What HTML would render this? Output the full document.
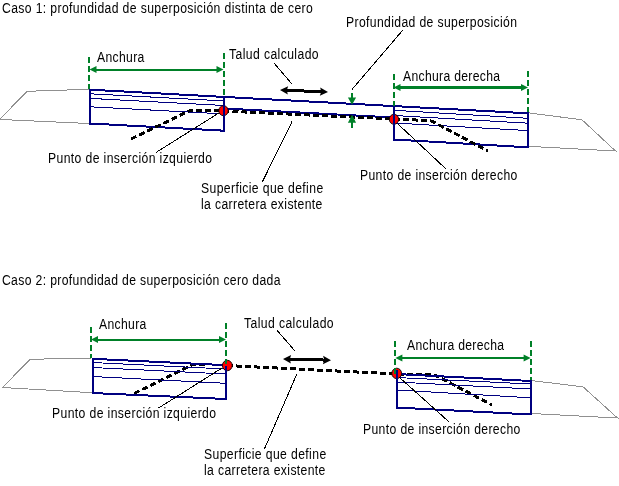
<!DOCTYPE html>
<html><head><meta charset="utf-8">
<style>
html,body{margin:0;padding:0;background:#fff;width:619px;height:486px;overflow:hidden}
svg{display:block;will-change:transform}
text{font-family:"Liberation Sans",sans-serif;font-size:14px;fill:#000}
</style></head><body>
<svg width="619" height="486" viewBox="0 0 619 486" shape-rendering="crispEdges">
<text transform="translate(2,13) scale(0.87,1)" x="0" y="0" textLength="357.21" lengthAdjust="spacing" >Caso 1: profundidad de superposición distinta de cero</text>
<polyline points="89,89.3 27,91.3 0.5,118.5 0.5,119.5 89,123.5" fill="none" stroke="#909090" stroke-width="1" />
<polyline points="528,112.8 582,119.8 615.5,151 528,146.3" fill="none" stroke="#909090" stroke-width="1" />
<line x1="90" y1="89.7" x2="528" y2="113.3" stroke="#000080" stroke-width="2" />
<line x1="90" y1="123.5" x2="224" y2="130.7" stroke="#000080" stroke-width="2" />
<line x1="394" y1="139.5" x2="528" y2="147.3" stroke="#000080" stroke-width="2" />
<line x1="90" y1="89" x2="90" y2="124.5" stroke="#000080" stroke-width="2" />
<line x1="224" y1="96" x2="224" y2="131.5" stroke="#000080" stroke-width="2" />
<line x1="394" y1="105" x2="394" y2="140.5" stroke="#000080" stroke-width="2" />
<line x1="528" y1="112" x2="528" y2="147.5" stroke="#000080" stroke-width="2" />
<line x1="90" y1="93.8" x2="224" y2="100.9" stroke="#000080" stroke-width="1" />
<line x1="90" y1="98.4" x2="224" y2="105.5" stroke="#000080" stroke-width="1" />
<line x1="90" y1="106.8" x2="224" y2="113.9" stroke="#000080" stroke-width="1" />
<line x1="394" y1="110.3" x2="528" y2="118.3" stroke="#000080" stroke-width="1" />
<line x1="394" y1="115.5" x2="528" y2="123.2" stroke="#000080" stroke-width="1" />
<line x1="394" y1="123" x2="528" y2="130.6" stroke="#000080" stroke-width="1" />
<line x1="224" y1="108.5" x2="394" y2="117.5" stroke="#000080" stroke-width="2" />
<line x1="131" y1="139" x2="190" y2="110.5" stroke="#000" stroke-width="3" stroke-dasharray="6.000,3.000" stroke-dashoffset="0.000"/>
<line x1="190" y1="110.5" x2="224" y2="111" stroke="#000" stroke-width="3" stroke-dasharray="6.000,3.000" stroke-dashoffset="2.523"/>
<line x1="224" y1="111" x2="394" y2="119" stroke="#000" stroke-width="3" stroke-dasharray="6.000,3.000" stroke-dashoffset="0.527"/>
<line x1="394" y1="119" x2="431" y2="120.7" stroke="#000" stroke-width="3" stroke-dasharray="6.000,3.000" stroke-dashoffset="8.715"/>
<line x1="431" y1="120.7" x2="488" y2="151" stroke="#000" stroke-width="3" stroke-dasharray="6.000,3.000" stroke-dashoffset="0.754"/>
<ellipse cx="223.5" cy="110.7" rx="4.7" ry="5" fill="#ff0000" stroke="#000" stroke-width="0.9" shape-rendering="auto"/>
<ellipse cx="394" cy="119.3" rx="4.7" ry="5" fill="#ff0000" stroke="#000" stroke-width="0.9" shape-rendering="auto"/>
<line x1="224" y1="105" x2="224" y2="116" stroke="#000080" stroke-width="2" />
<line x1="394" y1="114" x2="394" y2="125" stroke="#000080" stroke-width="2" />
<line x1="89" y1="57" x2="89" y2="89" stroke="#008028" stroke-width="2" stroke-dasharray="6,3" stroke-dashoffset="0"/>
<line x1="223.5" y1="53" x2="223.5" y2="96" stroke="#008028" stroke-width="2" stroke-dasharray="6,3" stroke-dashoffset="0"/>
<line x1="393.5" y1="74" x2="393.5" y2="106" stroke="#008028" stroke-width="2" stroke-dasharray="6,3" stroke-dashoffset="0"/>
<line x1="528" y1="71" x2="528" y2="112" stroke="#008028" stroke-width="2" stroke-dasharray="6,3" stroke-dashoffset="0"/>
<line x1="95.5" y1="69.5" x2="217.5" y2="69.5" stroke="#008028" stroke-width="2" />
<polygon points="89.50,69.50 96.50,66.00 96.50,69.50 96.50,73.00" fill="#008028" shape-rendering="auto"/>
<polygon points="223.50,69.50 216.50,73.00 216.50,69.50 216.50,66.00" fill="#008028" shape-rendering="auto"/>
<line x1="399.5" y1="87.5" x2="522" y2="87.5" stroke="#008028" stroke-width="3" />
<polygon points="393.50,87.50 400.50,84.00 400.50,87.50 400.50,91.00" fill="#008028" shape-rendering="auto"/>
<polygon points="528.00,87.50 521.00,91.00 521.00,87.50 521.00,84.00" fill="#008028" shape-rendering="auto"/>
<line x1="352" y1="93" x2="352" y2="99" stroke="#008028" stroke-width="2" />
<polygon points="352.00,104.80 347.90,97.60 352.00,97.60 356.10,97.60" fill="#008028" shape-rendering="auto"/>
<line x1="352" y1="122" x2="352" y2="128" stroke="#008028" stroke-width="2" />
<polygon points="352.00,114.80 356.10,122.80 352.00,122.80 347.90,122.80" fill="#008028" shape-rendering="auto"/>
<line x1="285.9947984385541" y1="90.24978326827309" x2="322.0052015614459" y2="91.75021673172691" stroke="#000" stroke-width="3" />
<polygon points="280.00,90.00 288.17,86.14 286.79,90.28 287.82,94.53" fill="#000" shape-rendering="auto"/>
<polygon points="328.00,92.00 319.83,95.86 321.21,91.72 320.18,87.47" fill="#000" shape-rendering="auto"/>
<line x1="274" y1="63" x2="291.6" y2="83.6" stroke="#000" stroke-width="1" />
<line x1="402.7" y1="30.2" x2="352" y2="89.5" stroke="#000" stroke-width="1" />
<line x1="155.8" y1="152.6" x2="218.5" y2="113.2" stroke="#000" stroke-width="1" />
<line x1="262.4" y1="181.8" x2="292" y2="121.6" stroke="#000" stroke-width="1" />
<line x1="398.5" y1="124.5" x2="446" y2="169" stroke="#000" stroke-width="1" />
<text transform="translate(97,62) scale(0.87,1)" x="0" y="0" textLength="54.48" lengthAdjust="spacing" >Anchura</text>
<text transform="translate(229,59) scale(0.87,1)" x="0" y="0" textLength="103.01" lengthAdjust="spacing" >Talud calculado</text>
<text transform="translate(346,27) scale(0.87,1)" x="0" y="0" textLength="196.55" lengthAdjust="spacing" >Profundidad de superposición</text>
<text transform="translate(403,81) scale(0.87,1)" x="0" y="0" textLength="111.49" lengthAdjust="spacing" >Anchura derecha</text>
<text transform="translate(48,163) scale(0.87,1)" x="0" y="0" textLength="188.57" lengthAdjust="spacing" >Punto de inserción izquierdo</text>
<text transform="translate(201,193) scale(0.87,1)" x="0" y="0" textLength="140.41" lengthAdjust="spacing" >Superficie que define</text>
<text transform="translate(201,209) scale(0.87,1)" x="0" y="0" textLength="139.55" lengthAdjust="spacing" >la carretera existente</text>
<text transform="translate(360,180) scale(0.87,1)" x="0" y="0" textLength="180.80" lengthAdjust="spacing" >Punto de inserción derecho</text>
<text transform="translate(2,285) scale(0.87,1)" x="0" y="0" textLength="320.00" lengthAdjust="spacing" >Caso 2: profundidad de superposición cero dada</text>
<polyline points="92,358 30,359.3 2.5,387.5 92,392.7" fill="none" stroke="#909090" stroke-width="1" />
<polyline points="531,380.5 583,386.8 617.5,418 531,413.5" fill="none" stroke="#909090" stroke-width="1" />
<line x1="134" y1="393.5" x2="192" y2="365" stroke="#000" stroke-width="3" stroke-dasharray="6.000,3.000" stroke-dashoffset="0.000"/>
<line x1="192" y1="365" x2="205" y2="364" stroke="#000" stroke-width="3" stroke-dasharray="6.000,3.000" stroke-dashoffset="1.624"/>
<line x1="227" y1="365.5" x2="396.5" y2="374" stroke="#000" stroke-width="3" stroke-dasharray="6.000,3.000" stroke-dashoffset="0.000"/>
<line x1="396.5" y1="374" x2="434" y2="374.5" stroke="#000" stroke-width="3" stroke-dasharray="6.000,3.000" stroke-dashoffset="7.713"/>
<line x1="434" y1="374.5" x2="492" y2="405" stroke="#000" stroke-width="3" stroke-dasharray="6.000,3.000" stroke-dashoffset="0.216"/>
<line x1="92" y1="358.8" x2="226" y2="365.2" stroke="#000080" stroke-width="2" />
<line x1="92" y1="393" x2="226" y2="399" stroke="#000080" stroke-width="2" />
<line x1="93" y1="358" x2="93" y2="394" stroke="#000080" stroke-width="2" />
<line x1="226" y1="364" x2="226" y2="400" stroke="#000080" stroke-width="2" />
<line x1="92" y1="362.5" x2="226" y2="369" stroke="#000080" stroke-width="1" />
<line x1="92" y1="367.5" x2="226" y2="374" stroke="#000080" stroke-width="1" />
<line x1="92" y1="376.5" x2="226" y2="383.3" stroke="#000080" stroke-width="1" />
<line x1="396" y1="374" x2="531" y2="381" stroke="#000080" stroke-width="2" />
<line x1="396" y1="407.5" x2="531" y2="414.5" stroke="#000080" stroke-width="2" />
<line x1="397" y1="373.5" x2="397" y2="408.5" stroke="#000080" stroke-width="2" />
<line x1="531" y1="380" x2="531" y2="415" stroke="#000080" stroke-width="2" />
<line x1="396" y1="377.5" x2="531" y2="384" stroke="#000080" stroke-width="1" />
<line x1="396" y1="382" x2="531" y2="389" stroke="#000080" stroke-width="1" />
<line x1="396" y1="390" x2="531" y2="397.8" stroke="#000080" stroke-width="1" />
<ellipse cx="227.3" cy="365.5" rx="4.9" ry="5.2" fill="#ff0000" stroke="#000" stroke-width="0.9" shape-rendering="auto"/>
<ellipse cx="396.7" cy="373.4" rx="4.9" ry="5.2" fill="#ff0000" stroke="#000" stroke-width="0.9" shape-rendering="auto"/>
<line x1="226" y1="366" x2="226" y2="371" stroke="#000080" stroke-width="2" />
<line x1="397" y1="370" x2="397" y2="379" stroke="#000080" stroke-width="2" />
<line x1="91" y1="327" x2="91" y2="358" stroke="#008028" stroke-width="2" stroke-dasharray="6,3" stroke-dashoffset="0"/>
<line x1="226" y1="323" x2="226" y2="364" stroke="#008028" stroke-width="2" stroke-dasharray="6,3" stroke-dashoffset="0"/>
<line x1="395.4" y1="341" x2="395.4" y2="374" stroke="#008028" stroke-width="2" stroke-dasharray="6,3" stroke-dashoffset="0"/>
<line x1="530.6" y1="341" x2="530.6" y2="380" stroke="#008028" stroke-width="2" stroke-dasharray="6,3" stroke-dashoffset="0"/>
<line x1="97" y1="339.6" x2="220" y2="339.6" stroke="#008028" stroke-width="2" />
<polygon points="91.00,339.60 98.00,336.10 98.00,339.60 98.00,343.10" fill="#008028" shape-rendering="auto"/>
<polygon points="226.00,339.60 219.00,343.10 219.00,339.60 219.00,336.10" fill="#008028" shape-rendering="auto"/>
<line x1="401.4" y1="358" x2="524.6" y2="358" stroke="#008028" stroke-width="2" />
<polygon points="395.40,358.00 402.40,354.50 402.40,358.00 402.40,361.50" fill="#008028" shape-rendering="auto"/>
<polygon points="530.60,358.00 523.60,361.50 523.60,358.00 523.60,354.50" fill="#008028" shape-rendering="auto"/>
<line x1="288.9981258784487" y1="359.1499531469612" x2="325.0018741215513" y2="360.0500468530388" stroke="#000" stroke-width="3" />
<polygon points="283.00,359.00 291.10,355.00 289.80,359.17 290.89,363.40" fill="#000" shape-rendering="auto"/>
<polygon points="331.00,360.20 322.90,364.20 324.20,360.03 323.11,355.80" fill="#000" shape-rendering="auto"/>
<line x1="276.5" y1="329.7" x2="295" y2="351" stroke="#000" stroke-width="1" />
<line x1="158.6" y1="408" x2="222" y2="368" stroke="#000" stroke-width="1" />
<line x1="264.4" y1="449" x2="297" y2="373.7" stroke="#000" stroke-width="1" />
<line x1="399.5" y1="377.5" x2="449.5" y2="422.3" stroke="#000" stroke-width="1" />
<text transform="translate(99,329) scale(0.87,1)" x="0" y="0" textLength="54.48" lengthAdjust="spacing" >Anchura</text>
<text transform="translate(244,327.5) scale(0.87,1)" x="0" y="0" textLength="103.01" lengthAdjust="spacing" >Talud calculado</text>
<text transform="translate(407,350) scale(0.87,1)" x="0" y="0" textLength="111.49" lengthAdjust="spacing" >Anchura derecha</text>
<text transform="translate(52,417.5) scale(0.87,1)" x="0" y="0" textLength="188.57" lengthAdjust="spacing" >Punto de inserción izquierdo</text>
<text transform="translate(204,459) scale(0.87,1)" x="0" y="0" textLength="140.41" lengthAdjust="spacing" >Superficie que define</text>
<text transform="translate(204,474.5) scale(0.87,1)" x="0" y="0" textLength="139.55" lengthAdjust="spacing" >la carretera existente</text>
<text transform="translate(363,434) scale(0.87,1)" x="0" y="0" textLength="180.80" lengthAdjust="spacing" >Punto de inserción derecho</text>
</svg>
</body></html>
